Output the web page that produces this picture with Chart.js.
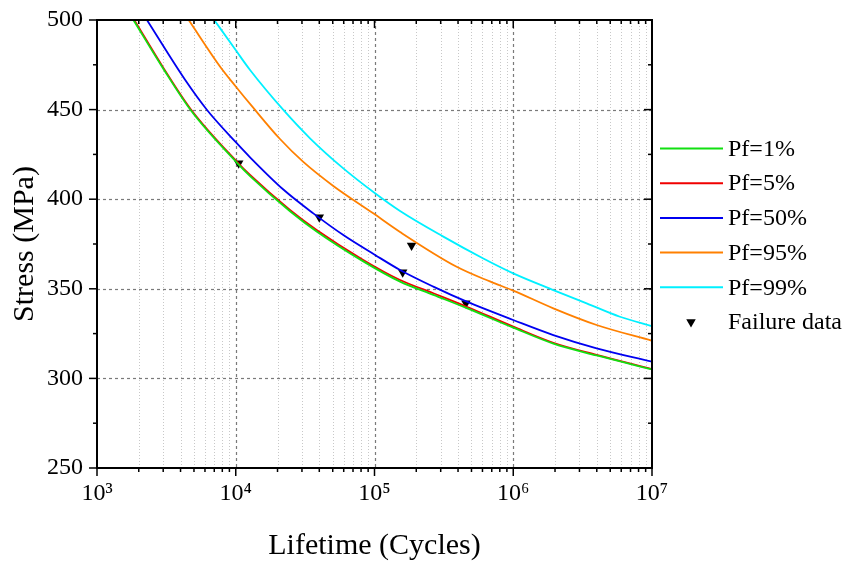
<!DOCTYPE html>
<html>
<head>
<meta charset="utf-8">
<script src="https://cdn.jsdelivr.net/npm/chart.js@4/dist/chart.umd.min.js"></script>
<style>
  html, body { margin: 0; padding: 0; background: #fff; }
  canvas { display: block; }
</style>
</head>
<body>
<canvas id="sn" width="856" height="570"></canvas>
<script>
// P-S-N curves: stress amplitude against fatigue life for several failure probabilities
const pf1Cycles  = [1830, 3027, 4786, 10210, 12680, 24600, 38280, 82980, 152800, 265500, 462200, 1000000, 1945000, 3990000, 10000000];
const pf1Stress  = [500, 472.4, 449.2, 420.3, 412.9, 393.3, 382.0, 365.3, 354.0, 346.6, 339.2, 328.3, 319.4, 312.8, 305.0];

const pf5Cycles  = [1857, 3027, 4786, 10210, 12680, 24600, 38280, 82980, 152800, 265500, 462200, 1000000, 1945000, 3990000, 10000000];
const pf5Stress  = [500, 473.0, 449.8, 420.9, 413.5, 394.0, 382.8, 366.1, 354.9, 347.5, 340.0, 328.9, 319.9, 313.1, 305.2];

const pf50Cycles = [2291, 4325, 6209, 9931, 12680, 22030, 36230, 59610, 100900, 152800, 265500, 462200, 1000000, 1945000, 3990000, 10000000];
const pf50Stress = [500, 466.5, 449.8, 432.1, 423.4, 405.4, 392.1, 380.0, 368.9, 360.5, 351.2, 342.8, 332.6, 324.2, 316.8, 309.3];

const pf95Cycles = [4581, 7745, 9931, 13310, 20840, 30680, 50470, 97940, 152800, 390900, 679200, 1000000, 1945000, 3990000, 10000000];
const pf95Stress = [500, 473.8, 463.2, 451.2, 433.6, 420.8, 407.4, 392.1, 381.7, 362.3, 354.1, 349.0, 339.1, 329.8, 321.0];

const pf99Cycles = [7000, 9931, 12680, 22030, 34290, 59610, 100900, 152800, 313400, 608400, 1000000, 1945000, 3381000, 5875000, 10000000];
const pf99Stress = [500, 483.5, 472.1, 449.8, 434.0, 417.2, 403.3, 393.4, 379.1, 366.9, 358.6, 349.3, 341.9, 334.4, 329.2];

const failureCycles = [10500, 40000, 159600, 185000, 456000];
const failureStress = [420.0, 389.9, 359.2, 374.1, 341.9];

const stressMin = 250, stressMax = 500, stressStep = 50;
const cycleDecades = [1e3, 1e4, 1e5, 1e6, 1e7];
const decadeLabels = ['10³', '10⁴', '10⁵', '10⁶', '10⁷'];

const SERIF = "'Liberation Serif', 'Times New Roman', serif";
const pairs = (xs, ys) => xs.map((x, i) => ({ x: x, y: ys[i] }));

function curve(label, color, xs, ys) {
  return {
    label: label,
    data: pairs(xs, ys),
    borderColor: color,
    backgroundColor: color,
    borderWidth: 1.8,
    pointRadius: 0,
    fill: false,
    cubicInterpolationMode: 'monotone'
  };
}

const datasets = [
  curve('Pf=1%',  '#11e011', pf1Cycles,  pf1Stress),
  curve('Pf=5%',  '#f00000', pf5Cycles,  pf5Stress),
  curve('Pf=50%', '#0000f0', pf50Cycles, pf50Stress),
  curve('Pf=95%', '#ff8000', pf95Cycles, pf95Stress),
  curve('Pf=99%', '#00f0ff', pf99Cycles, pf99Stress),
  {
    label: 'Failure data',
    data: pairs(failureCycles, failureStress),
    showLine: false,
    borderColor: '#000',
    backgroundColor: '#000',
    borderWidth: 0,
    pointStyle: 'triangle',
    rotation: 180,
    pointRadius: 5.5
  }
];

// minor values inside each decade (2..9 x 10^n)
function minorCycles() {
  const out = [];
  for (let d = 0; d < cycleDecades.length - 1; d++) {
    for (let k = 2; k <= 9; k++) out.push(k * cycleDecades[d]);
  }
  return out;
}

// the plot box is placed by the layout padding alone
function noEdgePadding(s) {
  s.paddingTop = 0; s.paddingBottom = 0; s.paddingLeft = 0; s.paddingRight = 0;
}

const framePlugin = {
  id: 'snFrame',
  // grid lines behind the curves
  beforeDatasetsDraw(chart) {
    const { ctx, chartArea: a, scales: { x, y } } = chart;
    ctx.save();
    ctx.lineWidth = 1;
    ctx.strokeStyle = '#c8c8c8';
    ctx.setLineDash([1, 2]);
    minorCycles().forEach(v => {
      const px = Math.round(x.getPixelForValue(v)) + 0.5;
      ctx.beginPath(); ctx.moveTo(px, a.top); ctx.lineTo(px, a.bottom); ctx.stroke();
    });
    ctx.strokeStyle = '#7a7a7a';
    ctx.lineWidth = 1.2;
    ctx.setLineDash([3, 3]);
    cycleDecades.slice(1, -1).forEach(v => {
      const px = Math.round(x.getPixelForValue(v)) + 0.5;
      ctx.beginPath(); ctx.moveTo(px, a.top); ctx.lineTo(px, a.bottom); ctx.stroke();
    });
    for (let s = stressMin + stressStep; s < stressMax; s += stressStep) {
      const py = Math.round(y.getPixelForValue(s)) + 0.5;
      ctx.beginPath(); ctx.moveTo(a.left, py); ctx.lineTo(a.right, py); ctx.stroke();
    }
    ctx.restore();
  },
  // frame and tick marks on all four sides
  afterDatasetsDraw(chart) {
    const { ctx, chartArea: a, scales: { x, y } } = chart;
    ctx.save();
    ctx.setLineDash([]);
    ctx.strokeStyle = '#000';
    ctx.lineWidth = 1.5;
    const tick = (x1, y1, x2, y2) => { ctx.beginPath(); ctx.moveTo(x1, y1); ctx.lineTo(x2, y2); ctx.stroke(); };
    const major = 8, minor = 4;
    cycleDecades.forEach(v => {
      const px = x.getPixelForValue(v);
      tick(px, a.bottom, px, a.bottom + major);
      tick(px, a.top, px, a.top + major);
    });
    minorCycles().forEach(v => {
      const px = x.getPixelForValue(v);
      tick(px, a.bottom, px, a.bottom + minor);
      tick(px, a.top, px, a.top + minor);
    });
    for (let s = stressMin; s <= stressMax; s += stressStep / 2) {
      const py = y.getPixelForValue(s);
      const len = (s - stressMin) % stressStep === 0 ? major : minor;
      tick(a.left - len, py, a.left, py);
      tick(a.right - len, py, a.right, py);
    }
    ctx.lineWidth = 2;
    ctx.strokeRect(a.left, a.top, a.right - a.left, a.bottom - a.top);
    ctx.restore();
  },
  // legend to the right of the plot
  afterDraw(chart) {
    const { ctx } = chart;
    const x0 = 660, x1 = 723, tx = 728, top = 148.5, step = 34.7;
    ctx.save();
    ctx.font = '24px ' + SERIF;
    ctx.textBaseline = 'middle';
    ctx.textAlign = 'left';
    chart.data.datasets.forEach((ds, i) => {
      const yy = top + i * step;
      if (ds.showLine === false) {
        ctx.fillStyle = ds.backgroundColor;
        ctx.strokeStyle = ds.borderColor;
        Chart.helpers.drawPoint(ctx, {
          pointStyle: ds.pointStyle, rotation: ds.rotation, radius: ds.pointRadius, borderWidth: 0
        }, (x0 + x1) / 2 - 0.5, yy);
      } else {
        ctx.strokeStyle = ds.borderColor;
        ctx.lineWidth = 2;
        ctx.beginPath(); ctx.moveTo(x0, yy); ctx.lineTo(x1, yy); ctx.stroke();
      }
      ctx.fillStyle = '#000';
      ctx.fillText(ds.label, tx, yy + 1);
    });
    ctx.restore();
  }
};

new Chart(document.getElementById('sn'), {
  type: 'line',
  data: { datasets: datasets },
  options: {
    responsive: false,
    devicePixelRatio: 1,
    animation: false,
    layout: { padding: { top: 20, right: 204, left: 0, bottom: 0 } },
    plugins: { legend: { display: false }, tooltip: { enabled: false } },
    scales: {
      x: {
        type: 'logarithmic',
        position: 'bottom',
        min: cycleDecades[0],
        max: cycleDecades[cycleDecades.length - 1],
        grid: { display: false, drawTicks: false },
        border: { display: false },
        afterBuildTicks: s => { s.ticks = cycleDecades.map(v => ({ value: v })); },
        afterFit: s => { s.height = 102; noEdgePadding(s); },
        ticks: {
          autoSkip: false,
          maxRotation: 0,
          padding: 11,
          color: '#000',
          font: { family: SERIF, size: 24 },
          callback: v => {
            const i = cycleDecades.indexOf(v);
            return i >= 0 ? decadeLabels[i] : '';
          }
        },
        title: {
          display: true,
          text: 'Lifetime (Cycles)',
          color: '#000',
          font: { family: SERIF, size: 30 },
          padding: { top: 0, bottom: 6 }
        }
      },
      y: {
        min: stressMin,
        max: stressMax,
        grid: { display: false, drawTicks: false },
        border: { display: false },
        afterFit: s => { s.width = 97; noEdgePadding(s); },
        ticks: {
          stepSize: stressStep,
          padding: 14,
          color: '#000',
          font: { family: SERIF, size: 24 }
        },
        title: {
          display: true,
          text: 'Stress (MPa)',
          color: '#000',
          font: { family: SERIF, size: 30 },
          padding: { top: 7, bottom: 0 }
        }
      }
    }
  },
  plugins: [framePlugin]
});
</script>
</body>
</html>
